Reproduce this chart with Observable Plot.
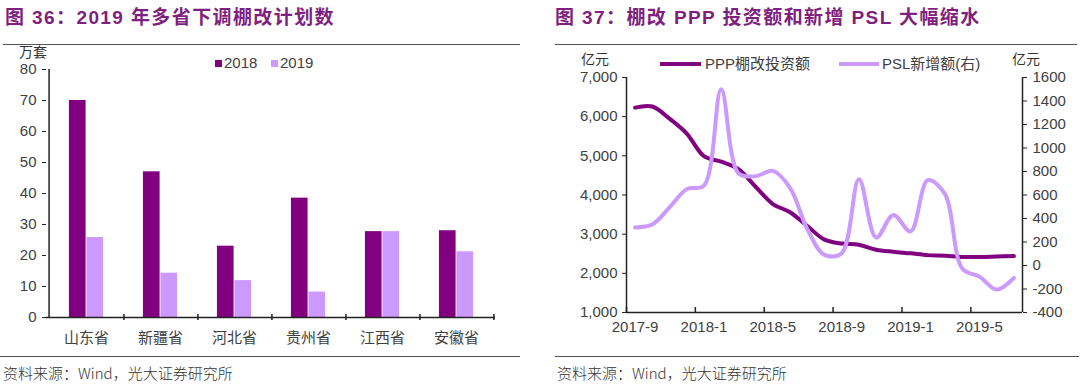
<!DOCTYPE html>
<html><head><meta charset="utf-8">
<script src="https://cdn.jsdelivr.net/npm/d3@7"></script>
<script src="https://cdn.jsdelivr.net/npm/@observablehq/plot@0.6"></script>
<style>
body{margin:0;background:#fff;}
#wrap{position:relative;width:1080px;height:387px;overflow:hidden;font-family:"Liberation Sans",Arial,"Noto Sans CJK SC",sans-serif;color:#404040;}
.title{position:absolute;top:2px;font-size:19px;font-weight:bold;color:#7f1f80;letter-spacing:1.4px;white-space:nowrap;font-family:"Liberation Sans","Noto Sans CJK SC",sans-serif;}
.rule{position:absolute;height:0;border-top:1.5px solid #555;}
.src{position:absolute;top:362px;font-size:15px;color:#333;white-space:nowrap;font-family:"Noto Sans CJK SC",sans-serif;font-weight:300;}
.panel{position:absolute;top:44px;}
.unit{position:absolute;font-size:14px;line-height:16px;color:#333;white-space:nowrap;font-family:"Noto Sans CJK SC",sans-serif;}
.leg{position:absolute;font-size:15px;color:#404040;white-space:nowrap;line-height:18px;}
.sq{position:absolute;width:7px;height:7px;}
.ln{position:absolute;height:4px;}
</style></head><body>
<div id="wrap">
  <div class="title" style="left:5px">图 36：2019 年多省下调棚改计划数</div>
  <div class="title" style="left:555px">图 37：棚改 PPP 投资额和新增 PSL 大幅缩水</div>
  <div class="rule" style="left:3px;width:517px;top:44px"></div>
  <div class="rule" style="left:555px;width:522px;top:44px"></div>
  <div class="rule" style="left:0px;width:520px;top:356px"></div>
  <div class="rule" style="left:555px;width:524px;top:356px"></div>
  <div class="src" style="left:3px">资料来源：Wind，光大证券研究所</div>
  <div class="src" style="left:557px">资料来源：Wind，光大证券研究所</div>
  <div id="left" class="panel" style="left:0px"></div>
  <div id="right" class="panel" style="left:540px"></div>
  <div class="unit" style="left:19px;top:43px">万套</div>
  <div class="unit" style="left:581px;top:50px">亿元</div>
  <div class="unit" style="left:1012px;top:50px">亿元</div>
  <div class="sq" style="left:215px;top:60px;background:#800080"></div>
  <div class="leg" style="left:224px;top:54px">2018</div>
  <div class="sq" style="left:271px;top:60px;background:#cc99ff"></div>
  <div class="leg" style="left:280px;top:54px">2019</div>
  <div class="ln" style="left:660px;width:41px;top:62px;background:#800080"></div>
  <div class="leg" style="left:705px;top:55px">PPP棚改投资额</div>
  <div class="ln" style="left:839px;width:40px;top:62px;background:#cc99ff"></div>
  <div class="leg" style="left:882px;top:55px">PSL新增额(右)</div>
</div>
<script>
// ---- Data: left chart ----
const provinces = ["山东省", "新疆省", "河北省", "贵州省", "江西省", "安徽省"];
const plan2018 = [70, 47, 23, 38.5, 27.7, 28];
const plan2019 = [25.8, 14.3, 11.9, 8.2, 27.7, 21.2];
const leftYTicks = [0, 10, 20, 30, 40, 50, 60, 70, 80];

// ---- Data: right chart ----
const months = ["2017-9","2017-10","2017-11","2017-12","2018-1","2018-2","2018-3","2018-4","2018-5","2018-6","2018-7","2018-8","2018-9","2018-10","2018-11","2018-12","2019-1","2019-2","2019-3","2019-4","2019-5","2019-6","2019-7"];
const pppInvest = [6230, 6260, 5950, 5570, 4990, 4850, 4660, 4210, 3770, 3560, 3210, 2860, 2760, 2730, 2600, 2550, 2510, 2465, 2450, 2420, 2420, 2430, 2440];
const pslNew = [323, 350, 494, 650, 680, 1500, 785, 760, 805, 660, 310, 90, 105, 735, 238, 430, 290, 726, 607, -25, -95, -205, -105];
const xTickLabels = ["2017-9", "2018-1", "2018-5", "2018-9", "2019-1", "2019-5"];
const leftAxisTicks = [1000, 2000, 3000, 4000, 5000, 6000, 7000];
const rightAxisTicks = [-400, -200, 0, 200, 400, 600, 800, 1000, 1200, 1400, 1600];

const FONT = '"Liberation Sans", Arial, "Noto Sans CJK SC", sans-serif';
const AXIS = "#222";
const TXT = "#404040";

// ---- Left chart ----
{
  const W = 520, H = 310, ml = 46, mr = 25, mt = 25, mb = 37;
  const bw = (W - ml - mr) / provinces.length;
  const barW = 17.5;
  const r18 = provinces.map((p, i) => ({p, v: plan2018[i]}));
  const r19 = provinces.map((p, i) => ({p, v: plan2019[i]}));
  const chart = Plot.plot({
    width: W, height: H, marginLeft: ml, marginRight: mr, marginTop: mt, marginBottom: mb,
    style: {fontFamily: FONT, fontSize: "15px", color: TXT, background: "transparent", overflow: "visible"},
    x: {domain: provinces, padding: 0, label: null},
    y: {domain: [0, 80], label: null},
    marks: [
      Plot.barY(r18, {x: "p", y: "v", fill: "#800080", insetLeft: bw / 2 - barW, insetRight: bw / 2}),
      Plot.barY(r19, {x: "p", y: "v", fill: "#cc99ff", insetLeft: bw / 2, insetRight: bw / 2 - barW}),
      Plot.axisY({ticks: leftYTicks, tickSize: 4, tickPadding: 6, label: null, stroke: AXIS, fill: TXT, fontSize: 15}),
      Plot.axisX({tickSize: 0, tickPadding: 15, label: null, fill: TXT, fontSize: 15}),
      Plot.ruleY([0], {stroke: AXIS, strokeWidth: 1.5}),
      Plot.ruleX([provinces[0]], {dx: -bw / 2, stroke: AXIS, strokeWidth: 1.5}),
      Plot.ruleX(provinces, {x: d => d, y1: 0, y2: 0, dx: bw / 2, insetTop: -3, insetBottom: -3, stroke: AXIS, strokeWidth: 1.5})
    ]
  });
  document.getElementById("left").appendChild(chart);
}

// ---- Right chart ----
{
  const W = 540, H = 310, ml = 86, mr = 58, mt = 33, mb = 42;
  const rMin = -400, rMax = 1600, lMin = 1000, lMax = 7000;
  const toLeft = v => lMin + (v - rMin) * (lMax - lMin) / (rMax - rMin);
  const fromLeft = v => Math.round(rMin + (v - lMin) * (rMax - rMin) / (lMax - lMin));
  const ppp = months.map((m, i) => ({x: i + 0.5, y: pppInvest[i]}));
  const psl = months.map((m, i) => ({x: i + 0.5, y: toLeft(pslNew[i])}));
  const tickIdx = xTickLabels.map(l => months.indexOf(l));
  const chart = Plot.plot({
    width: W, height: H, marginLeft: ml, marginRight: mr, marginTop: mt, marginBottom: mb,
    style: {fontFamily: FONT, fontSize: "15px", color: TXT, background: "transparent", overflow: "visible"},
    x: {type: "linear", domain: [0, months.length], label: null},
    y: {domain: [lMin, lMax], label: null},
    marks: [
      Plot.line(ppp, {x: "x", y: "y", stroke: "#800080", strokeWidth: 4, curve: "catmull-rom"}),
      Plot.line(psl, {x: "x", y: "y", stroke: "#cc99ff", strokeWidth: 4, curve: "catmull-rom"}),
      Plot.axisY({ticks: leftAxisTicks, tickSize: 4, tickPadding: 5, tickFormat: d3.format(","), label: null, stroke: AXIS, fill: TXT, fontSize: 15}),
      Plot.axisY({anchor: "right", ticks: rightAxisTicks.map(toLeft), tickSize: 4, tickPadding: 6, tickFormat: d => `${fromLeft(d)}`, label: null, stroke: AXIS, fill: TXT, fontSize: 15}),
      Plot.axisX({ticks: tickIdx.map(i => i + 0.5), tickSize: 0, tickPadding: 9, tickFormat: d => months[d - 0.5], label: null, fill: TXT, fontSize: 15}),
      Plot.ruleX(tickIdx, {x: d => d, y1: lMin, y2: lMin, insetTop: -5, stroke: AXIS, strokeWidth: 1.5}),
      Plot.ruleX([0, months.length], {stroke: AXIS, strokeWidth: 1.5}),
      Plot.ruleY([lMin], {stroke: AXIS, strokeWidth: 1.5})
    ]
  });
  document.getElementById("right").appendChild(chart);
}
</script>
</body></html>
